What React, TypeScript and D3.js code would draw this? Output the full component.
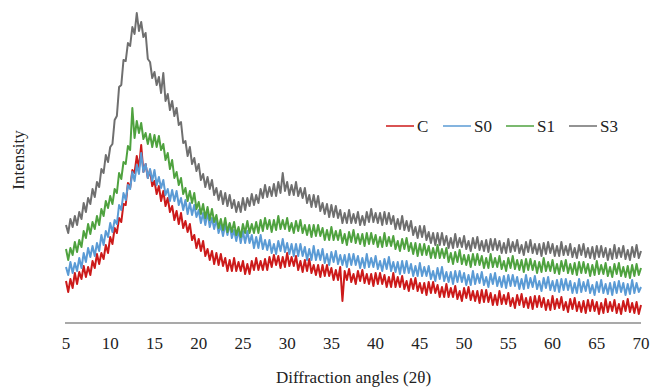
import React from 'react';
import * as d3 from 'd3';

// 2θ sampling grid: 5° to 70° every 0.25°
const angleStart = 5;
const angleStep = 0.25;
const xTicks = [5, 10, 15, 20, 25, 30, 35, 40, 45, 50, 55, 60, 65, 70];
const seriesNames = ['C', 'S0', 'S1', 'S3'];
const seriesColors = ['#CC1A1A', '#5B9BD5', '#4FA23F', '#6F6F6F'];

const C = [
  42,31,44,35, 50,39,51,44, 57,46,56,48, 62,55,69,59, 70,64,78,70, 86,79,95,90, 105,101,119,118, 140,135,153,150,
  167,155,178,151, 159,145,153,137, 142,129,137,122, 132,117,125,111, 117,103,112,99, 110,95,102,91, 99,83,88,75,
  84,72,82,67, 74,63,72,59, 70,58,69,57, 65,52,63,52, 65,52,61,52, 62,49,59,49, 62,53,65,53, 62,53,64,53,
  66,56,68,58, 67,55,66,56, 70,57,66,57, 67,53,62,51, 63,52,64,50, 58,48,58,46, 58,47,58,47, 55,43,53,43,
  56,22,52,43, 54,41,49,39, 52,42,53,40, 49,39,49,37, 50,39,50,39, 48,36,46,36, 50,36,46,36, 47,34,42,32,
  44,34,45,32, 40,30,40,28, 41,30,41,30, 38,26,36,26, 39,26,35,26, 37,24,32,22, 35,25,36,23, 32,22,32,20,
  33,21,33,21, 30,18,28,18, 32,19,28,19, 30,17,25,15, 28,18,29,16, 25,15,26,14, 27,16,27,16, 25,13,23,13,
  27,14,24,15, 26,13,21,11, 24,14,25,12, 21,11,22,10, 23,12,23,12, 21,9,20,10, 24,11,21,12, 23,10,19,9,
  22,12,24,11, 20,10,21,9, 18,
];

const S0 = [
  56,48,61,50, 60,52,65,55, 70,61,75,66, 77,67,80,72, 88,78,92,86, 100,91,103,99, 118,113,130,123, 138,134,151,142,
  158,149,170,151, 159,145,154,142, 153,138,146,135, 143,128,134,122, 133,122,132,118, 125,113,123,109, 120,108,118,106,
  113,100,110,98, 111,96,105,94, 104,90,98,87, 99,88,99,85, 93,82,93,80, 92,80,92,80, 88,75,86,75, 88,74,83,73,
  83,70,79,69, 82,72,84,71, 80,69,79,67, 79,67,79,67, 76,63,74,63, 77,63,73,63, 74,60,69,58, 71,61,72,59,
  68,58,68,56, 69,58,69,58, 67,55,65,55, 69,56,65,56, 67,54,62,52, 64,54,66,52, 61,51,61,49, 62,50,62,50,
  59,47,57,47, 60,47,56,47, 57,44,52,42, 55,44,56,42, 51,41,51,39, 52,41,52,41, 50,38,48,38, 52,39,49,40,
  51,38,46,36, 49,39,50,37, 46,36,47,35, 48,37,48,37, 46,34,44,34, 48,35,45,36, 47,34,42,32, 45,35,46,33,
  42,32,43,31, 44,33,44,33, 42,30,40,30, 44,31,41,32, 43,30,38,28, 41,31,43,30, 39,29,40,28, 41,30,42,31,
  40,28,39,29, 43,30,40,31, 36,
];

const S1 = [
  74,63,75,68, 81,71,83,76, 92,85,99,89, 101,94,107,98, 114,107,122,115, 127,119,134,130, 150,144,161,159, 177,173,215,185,
  202,190,200,184, 190,179,189,176, 188,176,187,173, 179,163,170,154, 163,145,151,138, 145,129,135,122, 132,120,130,114,
  121,109,119,105, 116,103,114,101, 108,95,104,93, 105,91,100,91, 101,88,96,86, 99,90,102,90, 99,90,101,90,
  103,92,105,94, 103,91,103,93, 107,94,103,94, 105,92,100,90, 102,92,103,90, 98,88,98,86, 98,87,98,87,
  95,83,93,83, 96,83,92,83, 93,80,89,78, 91,81,93,80, 89,79,89,77, 90,79,90,79, 88,76,86,76, 90,77,86,77,
  87,74,82,72, 84,74,85,72, 80,69,80,67, 79,68,79,68, 77,65,75,65, 78,65,74,65, 75,61,70,59, 71,61,73,59,
  68,58,68,56, 69,58,69,58, 67,55,65,55, 69,56,65,56, 67,54,62,52, 65,55,67,54, 63,53,63,51, 64,53,64,53,
  62,50,61,51, 65,52,61,52, 63,50,59,49, 62,52,63,50, 59,49,60,48, 61,50,61,50, 59,47,58,48, 62,49,58,49,
  60,47,56,46, 59,49,60,47, 56,46,57,45, 58,47,59,48, 55,
];

const S3 = [
  98,90,104,96, 107,98,111,104, 120,111,125,119, 134,126,141,136, 154,150,168,161, 176,179,203,207, 236,238,263,262, 280,277,296,289,
  310,292,301,286, 290,264,261,245, 251,238,246,230, 250,222,229,213, 222,207,215,198, 201,180,182,167, 176,159,165,152,
  159,143,149,136, 146,134,143,128, 135,123,132,119, 130,117,128,115, 123,111,121,111, 125,113,125,117, 129,118,128,120,
  134,125,138,126, 136,127,139,127, 141,130,150,132, 141,128,138,128, 141,127,135,125, 135,120,128,116, 128,116,127,112,
  120,109,119,106, 118,106,117,105, 113,100,110,100, 113,100,109,100, 111,98,107,98, 111,101,114,101, 110,100,110,98,
  111,99,110,99, 107,94,104,94, 107,93,102,92, 102,88,96,85, 97,86,97,83, 91,80,90,78, 90,78,90,78, 87,75,85,75,
  89,76,85,76, 87,74,82,72, 85,75,86,73, 82,72,83,71, 84,73,84,73, 82,70,80,70, 84,71,81,72, 83,70,78,68,
  81,71,83,70, 79,69,79,67, 80,69,81,70, 79,67,77,67, 81,68,77,68, 79,66,75,65, 78,68,79,66, 75,65,76,64,
  77,66,77,66, 75,63,74,64, 78,65,75,66, 77,64,73,63, 76,66,78,65, 72,
];

const seriesData = [C, S0, S1, S3];

const FONT = '"Times New Roman", "Liberation Serif", serif';

export default function App() {
  const width = 654;
  const height = 388;
  const x = d3.scaleLinear().domain([5, 70]).range([66, 641]);
  const y = d3.scaleLinear().domain([0, 310]).range([323, 13]);
  const line = d3
    .line<number>()
    .x((_, i) => x(angleStart + i * angleStep))
    .y((d) => y(d));

  const legendX = [386, 443, 506, 569];

  return (
    <svg
      width={width}
      height={height}
      style={{ position: 'absolute', left: 0, top: 0, background: '#fff' }}
      fontFamily={FONT}
    >
      <rect x={0} y={0} width={width} height={height} fill="#fff" />
      {seriesData.map((s, k) => (
        <path
          key={seriesNames[k]}
          d={line(s) || ''}
          fill="none"
          stroke={seriesColors[k]}
          strokeWidth={2}
          strokeLinejoin="round"
        />
      ))}
      <line x1={x(5) - 1} x2={x(70)} y1={y(0)} y2={y(0)} stroke="#8c8c8c" strokeWidth={1.5} />
      {xTicks.map((t) => (
        <text key={t} x={x(t)} y={349} textAnchor="middle" fontSize={17} fill="#222">
          {t}
        </text>
      ))}
      <text x={(x(5) + x(70)) / 2} y={383} textAnchor="middle" fontSize={17} fill="#222">
        Diffraction angles (2θ)
      </text>
      <text
        transform={`translate(24, 160) rotate(-90)`}
        textAnchor="middle"
        fontSize={17}
        fill="#222"
      >
        Intensity
      </text>
      {seriesNames.map((n, k) => (
        <g key={n}>
          <line
            x1={legendX[k]}
            x2={legendX[k] + 28}
            y1={126}
            y2={126}
            stroke={seriesColors[k]}
            strokeWidth={1.5}
          />
          <text x={legendX[k] + 31} y={132} fontSize={17} fill="#222">
            {n}
          </text>
        </g>
      ))}
    </svg>
  );
}
